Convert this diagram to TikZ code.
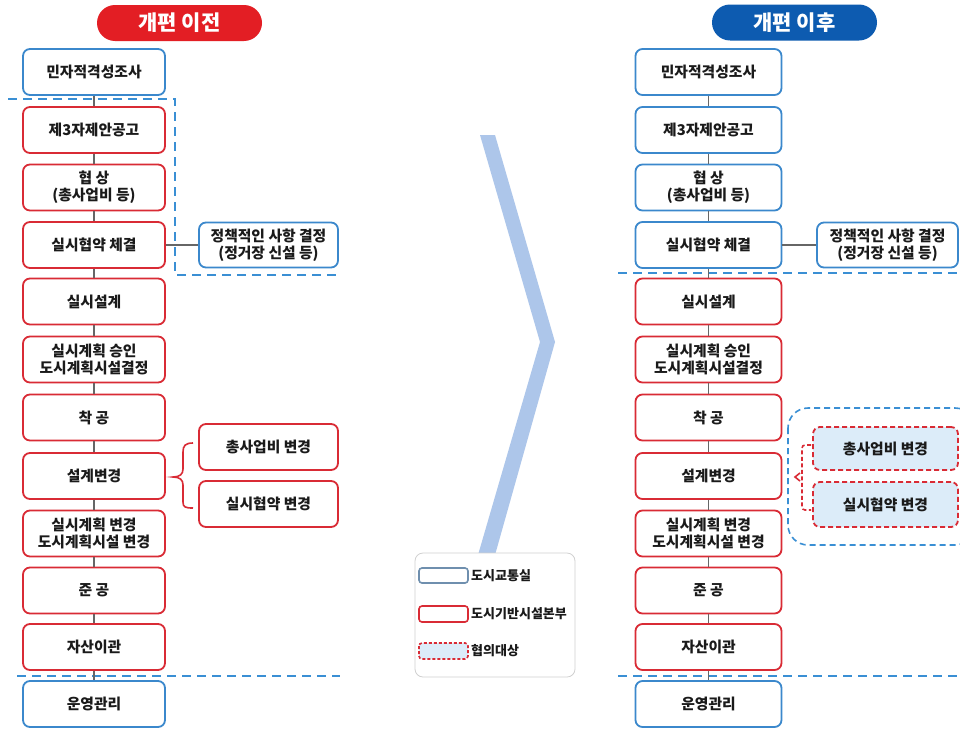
\documentclass[tikz,border=0pt]{standalone}
\usepackage{fontspec}
\setmainfont{Noto Sans CJK KR}
\definecolor{bluebd}{HTML}{3B88CC}
\definecolor{redbd}{HTML}{D92B35}
\definecolor{dashblue}{HTML}{3A8FD4}
\definecolor{titlered}{HTML}{E31E24}
\definecolor{titleblue}{HTML}{0D5BB0}
\definecolor{lightfill}{HTML}{DCECF9}
\definecolor{chev}{HTML}{ADC6EA}
\definecolor{txt}{HTML}{1A1A1A}
\definecolor{linkgray}{HTML}{666666}
\definecolor{legbd}{HTML}{D0D0D0}
\definecolor{legblue}{HTML}{6F8FAE}
\tikzset{
  box/.style={draw, rounded corners=7pt, line width=1.8pt, minimum height=46pt,
    align=center, fill=white, font=\bfseries\fontsize{14.8}{17}\selectfont, text=txt, inner sep=1pt},
  lbox/.style={box, minimum width=142pt},
  rcbox/.style={box, minimum width=146pt},
  bbox/.style={draw=bluebd},
  rbox/.style={draw=redbd},
  dbox/.style={box, draw=redbd, dash pattern=on 5pt off 3pt, fill=lightfill, minimum width=145pt},
  link/.style={draw=linkgray, line width=1.2pt},
  sepline/.style={draw=dashblue, line width=1.8pt, dash pattern=on 9pt off 6pt},
  title/.style={rounded corners=18pt, minimum width=165pt, minimum height=36pt,
    text=white, font=\bfseries\fontsize{21}{24}\selectfont, inner sep=0pt},
  legtxt/.style={anchor=west, inner sep=0pt, text=txt, font=\bfseries\fontsize{13}{14}\selectfont},
  legbox/.style={line width=1.6pt, rounded corners=3pt}
}
\begin{document}
\begin{tikzpicture}[x=1pt,y=-1pt]
\useasboundingbox[fill=white] (0,0) rectangle (960,728);
\clip (0,0) rectangle (960,728);

% chevron
\fill[chev] (480,135) -- (495,135) -- (555,342) -- (495,555) -- (478,555) -- (540,342) -- cycle;

% titles
\node[title, fill=titlered] (T1) at (179.5,23) {개편 이전};
\node[title, fill=titleblue] (T2) at (794.5,22.5) {개편 이후};

% separator dashed lines
\draw[sepline] (8,99) -- (175,99) -- (175,275) -- (340,275);
\draw[sepline] (17,676) -- (340,676);
\draw[sepline] (618,273) -- (960,273);
\draw[sepline] (618,676) -- (960,676);

% right dashed region
\draw[draw=dashblue, line width=1.6pt, dash pattern=on 6pt off 4pt, rounded corners=20pt] (788,408) rectangle (975,545);

% left column
\node[lbox,bbox] (L1) at (94,72) {민자적격성조사};
\node[lbox,rbox] (L2) at (94,130) {제3자제안공고};
\node[lbox,rbox] (L3) at (94,187.5) {협 상\\(총사업비 등)};
\node[lbox,rbox] (L4) at (94,245) {실시협약 체결};
\node[lbox,rbox] (L5) at (94,301.5) {실시설계};
\node[lbox,rbox] (L6) at (94,359.5) {실시계획 승인\\도시계획시설결정};
\node[lbox,rbox] (L7) at (94,417.5) {착 공};
\node[lbox,rbox] (L8) at (94,476) {설계변경};
\node[lbox,rbox] (L9) at (94,533.5) {실시계획 변경\\도시계획시설 변경};
\node[lbox,rbox] (L10) at (94,590.5) {준 공};
\node[lbox,rbox] (L11) at (94,647) {자산이관};
\node[lbox,bbox] (L12) at (94,704) {운영관리};

\node[box,bbox,minimum width=139pt,minimum height=45pt] (LP) at (268.5,245) {정책적인 사항 결정\\(정거장 신설 등)};
\node[box,rbox,minimum width=139pt] (LS1) at (268.5,447) {총사업비 변경};
\node[box,rbox,minimum width=139pt] (LS2) at (268.5,504) {실시협약 변경};

% right column
\node[rcbox,bbox] (R1) at (708.5,72) {민자적격성조사};
\node[rcbox,bbox] (R2) at (708.5,130) {제3자제안공고};
\node[rcbox,bbox] (R3) at (708.5,187.5) {협 상\\(총사업비 등)};
\node[rcbox,bbox] (R4) at (708.5,245) {실시협약 체결};
\node[rcbox,rbox] (R5) at (708.5,301.5) {실시설계};
\node[rcbox,rbox] (R6) at (708.5,359.5) {실시계획 승인\\도시계획시설결정};
\node[rcbox,rbox] (R7) at (708.5,417.5) {착 공};
\node[rcbox,rbox] (R8) at (708.5,476) {설계변경};
\node[rcbox,rbox] (R9) at (708.5,533.5) {실시계획 변경\\도시계획시설 변경};
\node[rcbox,rbox] (R10) at (708.5,590.5) {준 공};
\node[rcbox,rbox] (R11) at (708.5,647) {자산이관};
\node[rcbox,bbox] (R12) at (708.5,704) {운영관리};

\node[box,bbox,minimum width=141pt,minimum height=45pt] (RP) at (887.5,245) {정책적인 사항 결정\\(정거장 신설 등)};
\node[dbox,minimum height=43pt] (RS1) at (885.5,448.5) {총사업비 변경};
\node[dbox,minimum height=45pt] (RS2) at (885.5,504.5) {실시협약 변경};

% connectors
\foreach \a/\b in {1/2,2/3,3/4,4/5,5/6,6/7,7/8,8/9,9/10,10/11,11/12}{
  \draw[link] (L\a) -- (L\b);
  \draw[link] (R\a) -- (R\b);
}
\draw[link] (L4) -- (LP);
\draw[link] (R4) -- (RP);

% braces
\draw[redbd, line width=1.6pt] (193,443) .. controls (185,443) and (183,446) .. (183,452) -- (183,469)
  .. controls (183,474) and (180,477) .. (173,477) .. controls (180,477) and (183,480) .. (183,485)
  -- (183,502) .. controls (183,507) and (185,508) .. (193,508);
\draw[redbd, line width=1.6pt, dash pattern=on 4pt off 2.5pt, rounded corners=3pt]
  (811,445) -- (802,445) -- (802,510) -- (811,510);
\draw[redbd, line width=1.6pt] (800,473) -- (795,477) -- (800,481);

% legend
\draw[legbd, line width=0.8pt, fill=white, rounded corners=8pt] (415,553) rectangle (575,677);
\draw[legbox, draw=legblue] (419,568) rectangle (468,583);
\draw[legbox, draw=redbd] (419,606) rectangle (468,622);
\draw[legbox, draw=redbd, fill=lightfill, dash pattern=on 3pt off 2pt] (419,643) rectangle (468,659);
\node[legtxt] (G1) at (471,575.5) {도시교통실};
\node[legtxt] (G2) at (471,614) {도시기반시설본부};
\node[legtxt] (G3) at (471,651) {협의대상};
\end{tikzpicture}
\end{document}
